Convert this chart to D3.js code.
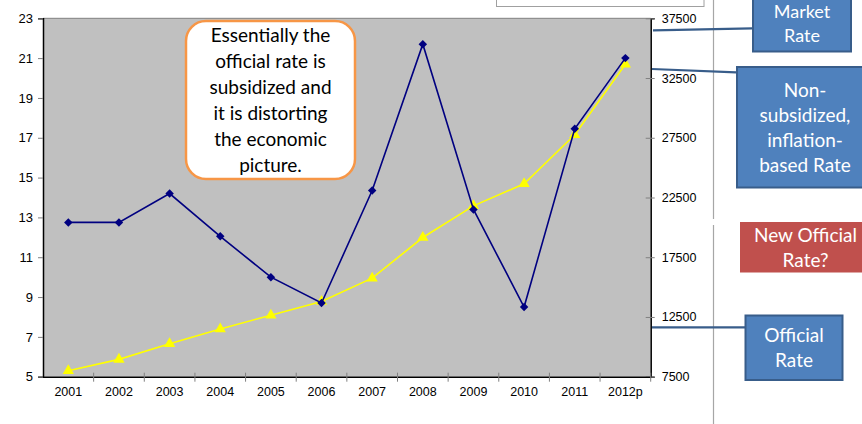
<!DOCTYPE html>
<html>
<head>
<meta charset="utf-8">
<script src="https://cdn.jsdelivr.net/npm/d3@7"></script>
<style>
  body { margin: 0; background: #fff; }
  svg { display: block; }
</style>
</head>
<body>
<div id="chart"></div>
<script>
// data
var years = ["2001", "2002", "2003", "2004", "2005", "2006", "2007", "2008", "2009", "2010", "2011", "2012p"];
var marketRate = [12.75, 12.75, 14.2, 12.05, 10.0, 8.7, 14.35, 21.7, 13.4, 8.5, 17.45, 21.0];   // left axis
var officialRate = [8000, 8950, 10250, 11500, 12650, 13800, 15750, 19150, 21800, 23650, 27750, 33650]; // right axis
var leftTicks = [5, 7, 9, 11, 13, 15, 17, 19, 21, 23];
var rightTicks = [7500, 12500, 17500, 22500, 27500, 32500, 37500];
var calloutLines = ["Essentially the", "official rate is", "subsidized and", "it is distorting", "the economic", "picture."];

var W = 862, H = 424;
var plot = {left: 43, right: 650.7, top: 18.3, bottom: 376.7};
var axisFont = "'Liberation Sans', Arial, sans-serif";
var boxFont = "Lato, 'Open Sans', sans-serif";

var svg = d3.select("#chart").append("svg")
    .attr("width", W)
    .attr("height", H);

var x = d3.scaleBand().domain(years).range([plot.left, plot.right]);
var cx = function(d) { return x(d) + x.bandwidth() / 2; };
var yL = d3.scaleLinear().domain([5, 23]).range([plot.bottom, plot.top]);
var yR = d3.scaleLinear().domain([7500, 37500]).range([plot.bottom, plot.top]);

// legend box peeking in at the top
svg.append("rect")
    .attr("x", 496.5).attr("y", -20).attr("width", 207.5).attr("height", 26.5)
    .attr("fill", "#fff").attr("stroke", "#a0a0a0").attr("stroke-width", 1);

// gray divider on the right
svg.append("line").attr("x1", 713.5).attr("x2", 713.5).attr("y1", 0).attr("y2", 219)
    .attr("stroke", "#a6a6a6").attr("stroke-width", 1.2);
svg.append("line").attr("x1", 713.5).attr("x2", 713.5).attr("y1", 225).attr("y2", H)
    .attr("stroke", "#a6a6a6").attr("stroke-width", 1.2);

// plot background
svg.append("rect")
    .attr("x", plot.left).attr("y", plot.top)
    .attr("width", plot.right - plot.left).attr("height", plot.bottom - plot.top)
    .attr("fill", "#c0c0c0");
svg.append("line").attr("x1", plot.left).attr("x2", plot.right)
    .attr("y1", plot.top).attr("y2", plot.top)
    .attr("stroke", "#808080").attr("stroke-width", 1);

// left axis
var gL = svg.append("g")
    .attr("transform", "translate(" + plot.left + ",0)")
    .call(d3.axisLeft(yL).tickValues(leftTicks).tickSize(5).tickPadding(5));
gL.select(".domain").attr("stroke", "#000").attr("stroke-width", 1.5);
gL.selectAll(".tick line").attr("stroke", "#808080");
gL.selectAll(".tick text")
    .style("font-family", axisFont)
    .style("font-size", "13px").attr("fill", "#000");

// right axis
var gR = svg.append("g")
    .attr("transform", "translate(" + plot.right + ",0)")
    .call(d3.axisRight(yR).tickValues(rightTicks).tickSize(4).tickPadding(7).tickFormat(d3.format("d")));
gR.select(".domain").attr("stroke", "#000").attr("stroke-width", 1.5);
gR.selectAll(".tick line").attr("stroke", "#808080").attr("x1", -5);
gR.selectAll(".tick text")
    .style("font-family", axisFont)
    .style("font-size", "12.5px").attr("fill", "#000");

// bottom axis: labels at band centres, ticks at band edges
var gB = svg.append("g")
    .attr("transform", "translate(0," + plot.bottom + ")")
    .call(d3.axisBottom(x).tickSize(0).tickPadding(10));
gB.select(".domain").attr("stroke", "#000").attr("stroke-width", 1.5);
gB.selectAll(".tick text")
    .style("font-family", axisFont)
    .style("font-size", "12.5px").attr("fill", "#000");
var edges = years.map(function(d) { return x(d); }).slice(1).concat([plot.right]);
gB.selectAll(".edge").data(edges).enter().append("line")
    .attr("x1", function(d) { return d; }).attr("x2", function(d) { return d; })
    .attr("y1", -4).attr("y2", 5)
    .attr("stroke", "#808080");

// official rate line (yellow, right axis)
var lineR = d3.line().x(function(d, i) { return cx(years[i]); }).y(function(d) { return yR(d); });
svg.append("path").datum(officialRate)
    .attr("d", lineR).attr("fill", "none")
    .attr("stroke", "#ffff00").attr("stroke-width", 1.6);
svg.selectAll(".tri").data(officialRate).enter().append("path")
    .attr("transform", function(d, i) { return "translate(" + cx(years[i]) + "," + yR(d) + ")"; })
    .attr("d", d3.symbol().type(d3.symbolTriangle).size(55))
    .attr("fill", "#ffff00");

// market rate line (navy, left axis)
var lineL = d3.line().x(function(d, i) { return cx(years[i]); }).y(function(d) { return yL(d); });
svg.append("path").datum(marketRate)
    .attr("d", lineL).attr("fill", "none")
    .attr("stroke", "#000080").attr("stroke-width", 1.6);
svg.selectAll(".dia").data(marketRate).enter().append("path")
    .attr("transform", function(d, i) { return "translate(" + cx(years[i]) + "," + yL(d) + ") rotate(45)"; })
    .attr("d", d3.symbol().type(d3.symbolSquare).size(36))
    .attr("fill", "#000080");

// orange callout
svg.append("rect")
    .attr("x", 186).attr("y", 21).attr("width", 169).attr("height", 158)
    .attr("rx", 20).attr("ry", 20)
    .attr("fill", "#fff").attr("stroke", "#f79646").attr("stroke-width", 2.5);
svg.append("text")
    .attr("x", 270.5).attr("y", 42)
    .attr("text-anchor", "middle")
    .style("font-family", boxFont)
    .style("font-size", "19px").attr("fill", "#000")
    .selectAll("tspan").data(calloutLines).enter().append("tspan")
    .attr("x", 270.5).attr("dy", function(d, i) { return i ? 26 : 0; })
    .text(function(d) { return d; });

// boxes on the right with connector lines
function box(x0, y0, w, h, fill, stroke, lines, tx, ty, lh, fs) {
    svg.append("rect")
        .attr("x", x0).attr("y", y0).attr("width", w).attr("height", h)
        .attr("fill", fill).attr("stroke", stroke).attr("stroke-width", stroke == "none" ? 0 : 2);
    svg.append("text")
        .attr("text-anchor", "middle")
        .style("font-family", boxFont)
        .style("font-size", (fs || 19) + "px").attr("fill", "#fff")
        .selectAll("tspan").data(lines).enter().append("tspan")
        .attr("x", tx).attr("y", function(d, i) { return ty + i * lh; })
        .text(function(d) { return d; });
}
function connector(x1, y1, x2, y2) {
    svg.append("line").attr("x1", x1).attr("y1", y1).attr("x2", x2).attr("y2", y2)
        .attr("stroke", "#385d8a").attr("stroke-width", 2.2);
}

connector(653, 30.3, 752, 28.3);
box(753, -30, 98, 81.5, "#4f81bd", "#385d8a", ["Market", "Rate"], 802, 18, 23.5, 18);

connector(652, 69, 736, 72.3);
box(737, 67, 140, 120.5, "#4f81bd", "#385d8a", ["Non-", "subsidized,", "inflation-", "based Rate"], 805, 97, 25);

box(740, 222, 130, 50.5, "#c0504d", "none", ["New Official", "Rate?"], 805.5, 241.5, 25.5);

connector(652, 327.3, 745, 327.3);
box(745.5, 315.5, 97, 64.5, "#4f81bd", "#385d8a", ["Official", "Rate"], 794, 341.5, 25.5);
</script>
</body>
</html>
